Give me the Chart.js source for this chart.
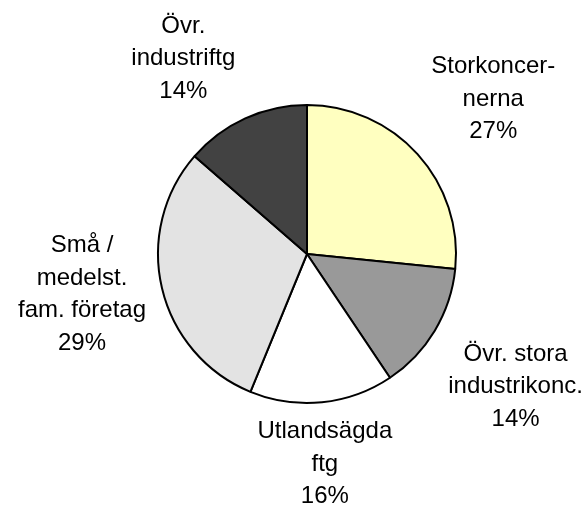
<!DOCTYPE html>
<html>
<head>
<meta charset="utf-8">
<script src="https://cdn.jsdelivr.net/npm/chart.js@4.4.1/dist/chart.umd.min.js"></script>
<style>
  html, body { margin: 0; padding: 0; background: #fff; }
  #wrap { width: 586px; height: 508px; position: relative; }
</style>
</head>
<body>
<div id="wrap"><canvas id="pieChart" width="586" height="508"></canvas></div>
<script>
// categories, split into lines as in the picture
var categories = [
  ["Storkoncer-", "nerna"],
  ["Övr. stora", "industrikonc."],
  ["Utlandsägda", "ftg"],
  ["Små /", "medelst.", "fam. företag"],
  ["Övr.", "industriftg"]
];
// slice sizes (angles)
var shares = [26.6, 14.0, 15.6, 30.2, 13.6];
// percent labels as printed
var pctLabels = ["27%", "14%", "16%", "29%", "14%"];
var sliceColors = ["#ffffc0", "#999999", "#ffffff", "#e3e3e3", "#424242"];

// where each label block sits, relative to pie centre (in radius units)
var labelOffsets = [
  [1.25, -1.04],
  [1.40, 0.89],
  [0.12, 1.41],
  [-1.51, 0.27],
  [-0.83, -1.31]
];

var outsideLabels = {
  id: "outsideLabels",
  afterDraw: function(chart) {
    var ctx = chart.ctx;
    var arc = chart.getDatasetMeta(0).data[0];
    var cx = arc.x, cy = arc.y, r = arc.outerRadius;
    var lh = 32.5;
    ctx.save();
    ctx.font = "24px 'Liberation Sans', Arial, sans-serif";
    ctx.fillStyle = "#000";
    ctx.textAlign = "center";
    ctx.textBaseline = "middle";
    for (var i = 0; i < categories.length; i++) {
      var lines = categories[i].concat([pctLabels[i]]);
      var bx = cx + labelOffsets[i][0] * r;
      var by = cy + labelOffsets[i][1] * r;
      var y0 = by - (lines.length - 1) / 2 * lh;
      for (var j = 0; j < lines.length; j++) {
        ctx.fillText(lines[j], bx, y0 + j * lh);
      }
    }
    ctx.restore();
  }
};

var pieChart = new Chart(document.getElementById("pieChart"), {
  type: "pie",
  data: {
    labels: categories.map(function(c) { return c.join(" "); }),
    datasets: [{
      data: shares,
      backgroundColor: sliceColors,
      borderColor: "#000",
      borderWidth: 2
    }]
  },
  options: {
    responsive: false,
    animation: false,
    radius: 149,
    layout: { padding: { left: 28, right: 0, top: 0, bottom: 0 } },
    plugins: {
      legend: { display: false },
      tooltip: { enabled: false },
      title: { display: false }
    }
  },
  plugins: [outsideLabels]
});
</script>
</body>
</html>
